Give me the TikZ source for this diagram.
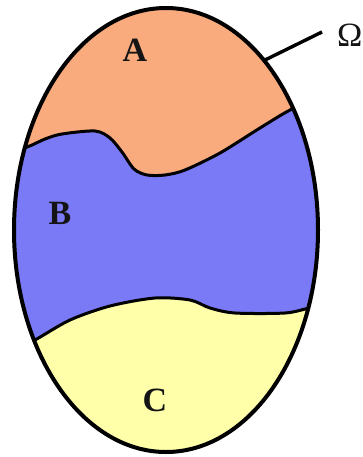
\documentclass[tikz,border=0pt]{standalone}
\usepackage{fontspec}
\setmainfont{Liberation Serif}
\usepackage{tikz}
\usetikzlibrary{positioning}
\definecolor{RegionA}{HTML}{F9AB7E}
\definecolor{RegionB}{HTML}{7A7AF6}
\definecolor{RegionC}{HTML}{FFFFAA}
\definecolor{Ink}{HTML}{141414}
\tikzset{
  rim/.style={draw=black,line width=4pt},
  seam/.style={draw=black,line width=3pt,line join=round,line cap=round},
  tag/.style={font=\fontsize{34}{34}\selectfont\bfseries,inner sep=0pt,text=Ink},
  setname/.style={font=\fontsize{34}{34}\selectfont,inner sep=0pt,text=Ink}
}
\begin{document}
\begin{tikzpicture}[x=1pt,y=-1pt]
\useasboundingbox (0,0) rectangle (363,457);
\begin{scope}
\clip (166,230) ellipse [x radius=152, y radius=222];
\fill[RegionA] (0,0) rectangle (363,457);
\fill[RegionB] plot[smooth] coordinates {(8,150) (27,147) (45,139) (62,134) (95,131) (110,138) (122,152) (134,169) (147,175) (165,175) (185,170) (220,153) (260,128) (292,109) (325,96)} -- (340,457) -- (0,457) -- cycle;
\fill[RegionC] plot[smooth] coordinates {(10,352) (35,340) (70,320) (110,306) (155,298) (190,300) (210,308) (235,313) (285,313) (310,308) (330,306)} -- (340,457) -- (0,457) -- cycle;
\draw[seam] plot[smooth] coordinates {(8,150) (27,147) (45,139) (62,134) (95,131) (110,138) (122,152) (134,169) (147,175) (165,175) (185,170) (220,153) (260,128) (292,109) (325,96)};
\draw[seam] plot[smooth] coordinates {(10,352) (35,340) (70,320) (110,306) (155,298) (190,300) (210,308) (235,313) (285,313) (310,308) (330,306)};
\end{scope}
\draw[rim] (166,230) ellipse [x radius=152, y radius=222];
\node[tag] (a) at (135,50) {A};
\node[tag] (b) at (60,213) {B};
\node[tag] (c) at (155,400) {C};
\coordinate (tick) at (265,60);
\coordinate (lead) at (322,32);
\node[setname,right=15pt of lead,yshift=-3pt] (omega) {Ω};
\draw[black,line width=3.4pt] (tick) -- (lead);
\end{tikzpicture}
\end{document}
